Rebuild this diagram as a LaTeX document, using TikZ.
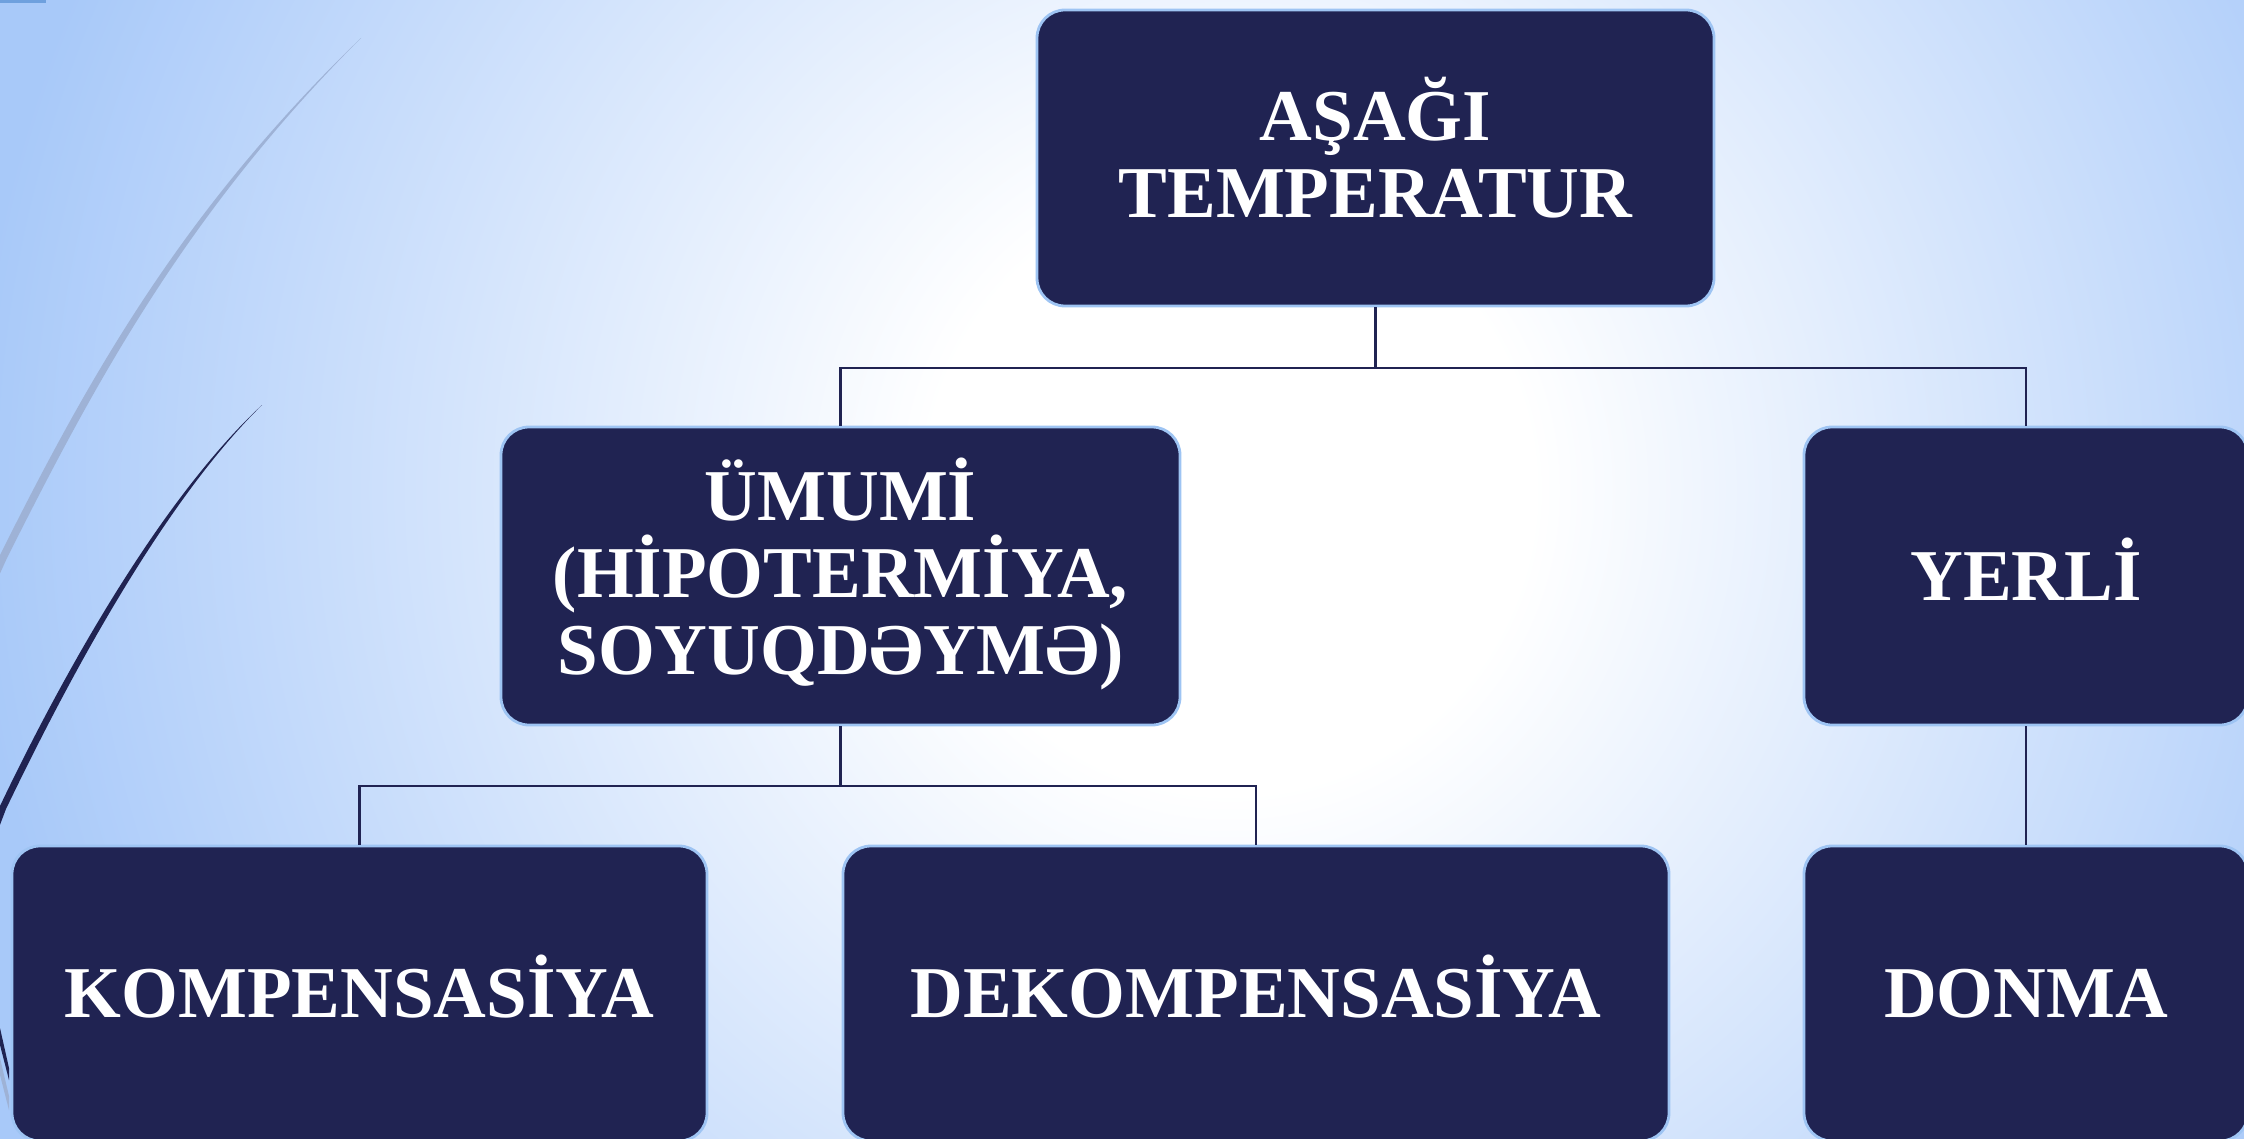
\documentclass[tikz,border=0pt]{standalone}
\usepackage{fontspec}
\setmainfont{Liberation Serif}
\definecolor{bgblue}{RGB}{168,201,249}
\definecolor{navy}{RGB}{32,35,82}
\definecolor{edgeblue}{RGB}{158,196,243}
\definecolor{arcgray}{RGB}{158,178,214}
\definecolor{barblue}{RGB}{110,160,222}
\pgfdeclareradialshading{bgrad}{\pgfpoint{0bp}{0bp}}{color(0bp)=(white); color(6bp)=(white); color(25bp)=(bgblue); color(50bp)=(bgblue)}
\tikzset{
  box/.style={draw=edgeblue, line width=1.4pt, fill=navy, rounded corners=14pt,
    text=white, align=center, inner sep=0pt,
    font=\fontsize{36.5}{38.5}\selectfont\bfseries},
  single/.style={text height=24.2pt, text depth=0pt},
  boxtext/.style={text=white, align=center, inner sep=0pt,
    font=\fontsize{36.5}{38.5}\selectfont\bfseries},
  link/.style={draw=navy, line width=1.3pt}
}
\begin{document}
\begin{tikzpicture}[x=0.5pt,y=-0.5pt]
\useasboundingbox (0,0) rectangle (2244,1139);
\clip (0,0) rectangle (2244,1139);
% background
\fill[bgblue] (0,0) rectangle (2244,1139);
\shade[shading=bgrad] (1230,490) circle (630pt);
\fill[barblue] (0,0) rectangle (46,3);
% decorative arcs
\fill[arcgray] (361,38) .. controls (181,211) and (87,381) .. (0,555) -- (-20,597)
  -- (-12,600) -- (7,558) .. controls (95,383) and (186,213) .. (361,38) -- cycle;
\fill[navy] (262,405) .. controls (152,507) and (50,701) .. (0,806) -- (-12,835)
  -- (-5,838) -- (6,809) .. controls (57,703) and (156,509) .. (262,405) -- cycle;
\fill[navy] (0,1028) -- (9,1068) -- (9,1080) -- (0,1045) -- cycle;
\fill[arcgray] (0,1058) -- (9,1096) -- (9,1110) -- (0,1075) -- cycle;
% boxes
\node[box, minimum width=338.5pt, minimum height=148pt] (top) at (1375.5,158) {};
\node[boxtext, yshift=5pt] (toptext) at (top.center) {AŞAĞI\\TEMPERATUR};
\node[box, minimum width=339.5pt, minimum height=149pt] (umumi) at (840.5,576) {};
\node[boxtext, yshift=1pt] (umumitext) at (umumi.center) {ÜMUMİ\\(HİPOTERMİYA,\\SOYUQDƏYMƏ)};
\node[box, single, minimum width=222pt, minimum height=149pt] (yerli) at (2026,576)
  {YERLİ};
\node[box, single, minimum width=347.5pt, minimum height=147.5pt] (komp) at (359.5,993.5)
  {KOMPENSASİYA};
\node[box, single, minimum width=413pt, minimum height=147.5pt] (dekomp) at (1256,993.5)
  {DEKOMPENSASİYA};
\node[box, single, minimum width=222pt, minimum height=147.5pt] (donma) at (2026,993.5)
  {DONMA};
% connectors
\coordinate (j1) at (1375.5,368);
\coordinate (j2) at (840.5,786);
\draw[link] (top.south) -- (j1);
\draw[link] (umumi.north) |- (j1) -| (yerli.north);
\draw[link] (umumi.south) -- (j2);
\draw[link] (komp.north) |- (j2) -| (dekomp.north);
\draw[link] (yerli.south) -- (donma.north);
\end{tikzpicture}
\end{document}
